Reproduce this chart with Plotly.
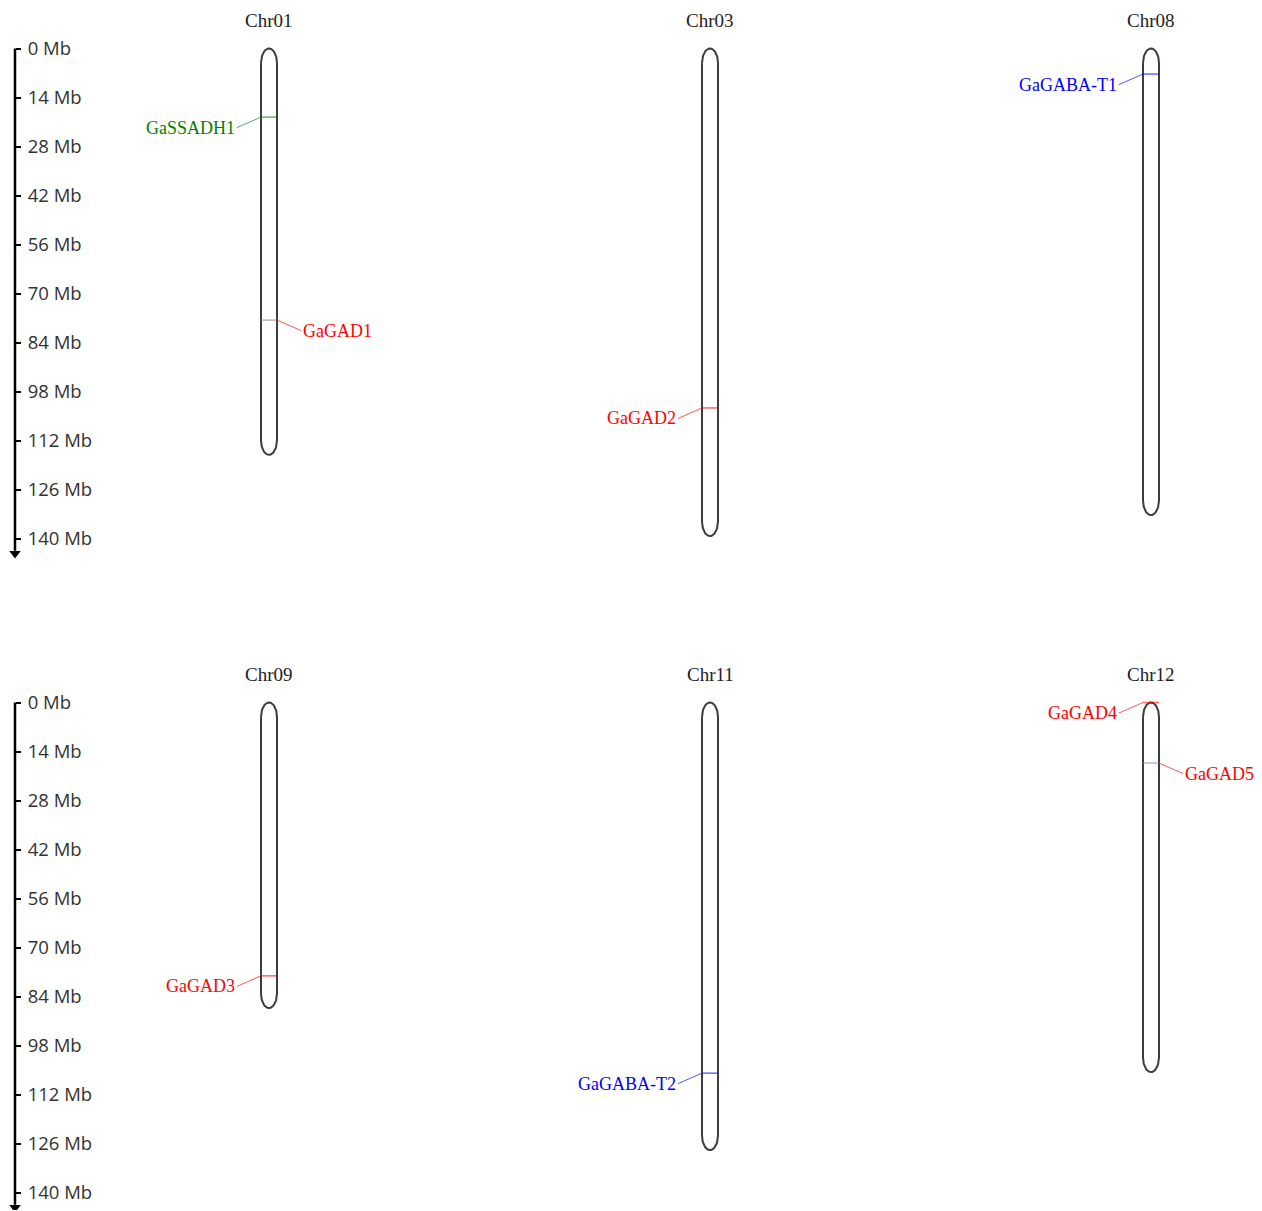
import plotly.graph_objects as go
import numpy as np

# ---- data -------------------------------------------------------------
chrom_names = ["Chr01", "Chr03", "Chr08", "Chr09", "Chr11", "Chr12"]
chrom_lengths = [116.1, 139.3, 133.3, 87.3, 127.9, 105.6]  # Mb

gene_names = ["GaSSADH1", "GaGAD1", "GaGAD2", "GaGABA-T1",
              "GaGAD3", "GaGABA-T2", "GaGAD4", "GaGAD5"]
gene_chroms = ["Chr01", "Chr01", "Chr03", "Chr08",
               "Chr09", "Chr11", "Chr12", "Chr12"]
gene_positions = [19.6, 77.6, 102.7, 7.3, 78.1, 105.9, 0.0, 17.3]  # Mb
gene_families = ["SSADH", "GAD", "GAD", "GABA-T",
                 "GAD", "GABA-T", "GAD", "GAD"]
gene_sides = ["left", "right", "left", "left",
              "left", "left", "left", "right"]

tick_values = [0, 14, 28, 42, 56, 70, 84, 98, 112, 126, 140]
tick_labels = [f"{v} Mb" for v in tick_values]

# ---- styling / layout -------------------------------------------------
W, H = 1262, 1211
family_colors = {"GAD": "#ff0000", "GABA-T": "#0000ff", "SSADH": "#008000"}
col_x = [269, 710, 1151]          # chromosome centres (px)
row_zero_px = [48.5, 702.5]       # pixel row of 0 Mb in each panel
px_per_mb = 3.5
row_ranges = [(-13, 150), (-13, 145)]
half_w = 8                        # half chromosome width (px)
cap_mb = 4.2                      # height of rounded chromosome ends
axis_x = 15
serif = "Liberation Serif, Times New Roman, serif"
sans = "Open Sans, Segoe UI, sans-serif"

fig = go.Figure()

yaxes = ["y", "y2"]
layout_axes = {}
for r, (lo, hi) in enumerate(row_ranges):
    top_px = row_zero_px[r] + lo * px_per_mb
    bot_px = row_zero_px[r] + hi * px_per_mb
    dom = [max(0.0, 1 - bot_px / H), min(1.0, 1 - top_px / H)]
    name = "yaxis" if r == 0 else "yaxis2"
    layout_axes[name] = dict(
        domain=dom, range=[hi, lo], anchor="free", position=axis_x / W,
        side="right", showline=False, showgrid=False, zeroline=False,
        tickmode="array", tickvals=tick_values, ticktext=tick_labels,
        ticks="outside", ticklen=5, tickwidth=2, tickcolor="#000",
        ticklabelstandoff=3,
        tickfont=dict(family=sans, size=18.5, color="#333"),
    )
    # axis line with arrow
    fig.add_trace(go.Scatter(
        x=[axis_x, axis_x], y=[0, 143.5], mode="lines",
        line=dict(color="#000", width=2.5), yaxis=yaxes[r],
        hoverinfo="skip", showlegend=False))
    fig.add_trace(go.Scatter(
        x=[axis_x], y=[144.3], mode="markers",
        marker=dict(symbol="triangle-down", size=10, color="#000"),
        yaxis=yaxes[r], hoverinfo="skip", showlegend=False))

# chromosome placement (row, column)
chrom_slot = {}
for i, name in enumerate(chrom_names):
    chrom_slot[name] = (i // 3, i % 3)

annotations = []
theta = np.linspace(0, np.pi, 40)
for name, length in zip(chrom_names, chrom_lengths):
    r, c = chrom_slot[name]
    cx = col_x[c]
    # outline: top cap, right side, bottom cap, left side
    top_x = cx - half_w * np.cos(theta)
    top_y = cap_mb - cap_mb * np.sin(theta)
    bot_x = cx + half_w * np.cos(theta)
    bot_y = (length - cap_mb) + cap_mb * np.sin(theta)
    xs = np.concatenate([top_x, bot_x, [top_x[0]]])
    ys = np.concatenate([top_y, bot_y, [top_y[0]]])
    fig.add_trace(go.Scatter(
        x=xs, y=ys, mode="lines", fill="toself", fillcolor="white",
        line=dict(color="#3c3c3c", width=2), yaxis=yaxes[r],
        hoverinfo="skip", showlegend=False))
    annotations.append(dict(
        x=cx, y=0, xref="x", yref=yaxes[r], text=name, showarrow=False,
        yshift=28, xanchor="center", yanchor="middle",
        font=dict(family=serif, size=19, color="#222")))

label_dx = 24   # px from chromosome edge to label anchor
label_dy = 3.0  # Mb the label sits below the locus
for g, chrom, pos, fam, side in zip(gene_names, gene_chroms, gene_positions,
                                    gene_families, gene_sides):
    r, c = chrom_slot[chrom]
    cx = col_x[c]
    color = family_colors[fam]
    inner = "#8a8a8a" if side == "right" else color
    fig.add_trace(go.Scatter(
        x=[cx - half_w, cx + half_w], y=[pos, pos], mode="lines",
        line=dict(color=inner, width=1.5), opacity=0.6, yaxis=yaxes[r],
        hoverinfo="skip", showlegend=False))
    sgn = -1 if side == "left" else 1
    edge = cx + sgn * half_w
    end = edge + sgn * label_dx
    fig.add_trace(go.Scatter(
        x=[edge, end], y=[pos, pos + label_dy], mode="lines",
        line=dict(color=color, width=1), opacity=0.65, yaxis=yaxes[r],
        hoverinfo="skip", showlegend=False))
    annotations.append(dict(
        x=end, y=pos + label_dy, xref="x", yref=yaxes[r], text=g,
        showarrow=False, xanchor="right" if side == "left" else "left",
        yanchor="middle", xshift=sgn * 1, borderpad=0,
        font=dict(family=serif, size=18, color=color)))

fig.update_layout(
    width=W, height=H, margin=dict(l=0, r=0, t=0, b=0),
    paper_bgcolor="white", plot_bgcolor="white",
    xaxis=dict(range=[0, W], visible=False, domain=[0, 1]),
    annotations=annotations, showlegend=False,
    **layout_axes,
)

fig.write_html("out.html")
